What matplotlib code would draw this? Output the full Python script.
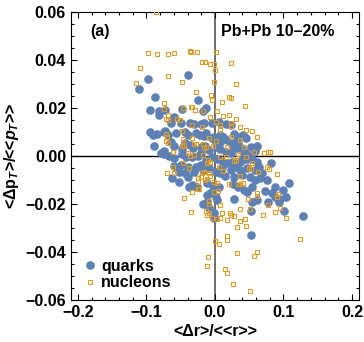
import numpy as np
import matplotlib
matplotlib.use('Agg')
import matplotlib.pyplot as plt
from matplotlib.ticker import MultipleLocator, FormatStrFormatter

### data ###
quarks_x = [-0.097, -0.111, -0.039, -0.087, -0.024, -0.095, -0.082, -0.073, -0.081, -0.048,
            -0.013, -0.017, -0.060, -0.050, -0.064, -0.036, -0.031, -0.021, -0.016, -0.005,
            0.006, 0.0165, 0.023, -0.095, -0.091, -0.085, -0.075, -0.073, -0.068, -0.057,
            -0.064, -0.060, -0.044, -0.040, -0.028, -0.022, -0.016, -0.013, -0.0015, -0.005,
            0.008, 0.012, 0.008, 0.028, 0.034, 0.041, 0.045, 0.052, 0.062, 0.058,
            0.030, 0.0335, 0.037, 0.042, -0.044, -0.037, -0.032, -0.020, -0.015, -0.075,
            -0.074, -0.078, -0.067, -0.060, -0.0485, -0.042, -0.033, -0.025, 0.001, 0.003,
            0.008, 0.0155, 0.023, 0.028, 0.035, 0.041, 0.046, 0.0495, -0.004, 0.003,
            0.011, 0.018, 0.025, 0.0305, 0.036, 0.040, 0.047, 0.054, 0.061, -0.060,
            -0.050, -0.040, -0.028, -0.021, -0.009, 0.011, 0.023, 0.028, 0.037, 0.047,
            0.058, 0.064, 0.069, 0.082, -0.052, -0.043, -0.031, -0.018, -0.062, -0.052,
            -0.040, 0.001, 0.007, 0.014, 0.028, 0.040, 0.051, 0.059, 0.0655, 0.076,
            -0.011, -0.0025, 0.006, -0.033, -0.038, -0.026, 0.026, 0.0335, 0.042, 0.047,
            0.054, 0.073, 0.0835, 0.087, 0.088, 0.100, 0.108, 0.103, 0.028, -0.011,
            -0.007, 0.001, 0.003, 0.054, 0.062, 0.078, 0.093, 0.0955, 0.1005, 0.129,
            -0.0175, -0.011, -0.008, -0.0015, -0.0015, 0.053, 0.0524, -0.021, -0.009, -0.0136,
            0.018, 0.023, -0.048, -0.089]
quarks_y = [0.0319, 0.0278, 0.0336, 0.0244, 0.0233, 0.0192, 0.0189, 0.0192, 0.0171, 0.0194,
            0.0201, 0.0189, 0.0161, 0.0139, 0.0139, 0.0139, 0.0133, 0.0133, 0.0138, 0.0139,
            0.0140, 0.0132, 0.0128, 0.0099, 0.0088, 0.0092, 0.0099, 0.0106, 0.0089, 0.0097,
            0.0060, 0.0043, 0.0101, 0.0089, 0.0094, 0.0086, 0.0083, 0.0097, 0.0081, 0.0074,
            0.0088, 0.0078, 0.0060, 0.0092, 0.0081, 0.0088, 0.0074, 0.0039, 0.0043, 0.0022,
            0.0060, 0.0050, 0.0039, 0.0018, 0.0053, 0.0046, 0.0033, 0.0036, 0.0042, 0.0022,
            0.0008, 0.0014, 0.0001, -0.0010, 0.0008, -0.0003, -0.0003, 0.0000, 0.0053, 0.0039,
            0.0028, 0.0018, 0.0011, 0.0032, 0.0028, 0.0025, 0.0008, 0.0001, -0.0003, -0.0014,
            -0.0019, -0.0031, -0.0024, -0.0033, -0.0024, -0.0017, -0.0014, -0.0011, -0.0024, -0.0040,
            -0.0038, -0.0047, -0.0044, -0.0038, -0.0051, -0.0051, -0.0058, -0.0044, -0.0058, -0.0051,
            -0.0058, -0.0044, -0.0069, -0.0031, -0.0065, -0.0072, -0.0065, -0.0058, -0.0093, -0.0107,
            -0.0086, -0.0065, -0.0072, -0.0083, -0.0086, -0.0079, -0.0086, -0.0100, -0.0093, -0.0100,
            -0.0111, -0.0124, -0.0128, -0.0121, -0.0131, -0.0128, -0.0117, -0.0128, -0.0142, -0.0149,
            -0.0128, -0.0147, -0.0156, -0.0131, -0.0169, -0.0142, -0.0113, -0.0169, -0.0180, -0.0163,
            -0.0153, -0.0169, -0.0183, -0.0190, -0.0183, -0.0190, -0.0190, -0.0179, -0.0228, -0.0251,
            -0.0200, -0.0190, -0.0218, -0.0239, -0.0260, -0.0229, -0.0330, 0.0014, 0.0025, -0.0017,
            0.0067, 0.0053, 0.0028, 0.0042]

nucleons_x = [-0.086, -0.097, -0.0845, -0.069, -0.059, -0.036, -0.0355, -0.026, 0.002, -0.0194,
              -0.015, -0.0073, -0.001, 0.000, 0.0238, -0.109, -0.1155, -0.069, -0.0476, -0.001,
              0.030, -0.027, -0.006, 0.021, 0.024, -0.005, 0.011, -0.075, 0.044, -0.047,
              -0.035, -0.034, -0.075, -0.029, -0.018, 0.003, -0.069, -0.007, 0.012, 0.020,
              -0.071, -0.069, -0.055, -0.051, 0.002, 0.007, 0.031, -0.034, -0.019, 0.023,
              0.024, 0.046, 0.054, -0.0485, 0.062, -0.071, -0.070, -0.046, -0.0335, 0.023,
              0.036, -0.071, -0.069, -0.048, -0.045, -0.030, -0.028, -0.0175, -0.0126, -0.0034,
              0.0015, 0.018, 0.042, 0.057, 0.071, 0.077, 0.081, -0.061, -0.040, -0.036,
              -0.030, -0.017, -0.0097, -0.011, 0.028, 0.031, 0.054, -0.046, -0.061, -0.038,
              -0.070, -0.059, -0.019, -0.0155, -0.0087, -0.0073, 0.006, 0.0117, 0.0495, 0.053,
              0.063, 0.076, 0.079, 0.036, 0.090, -0.025, -0.021, -0.015, -0.011, -0.024,
              -0.0015, 0.0024, 0.020, 0.0335, 0.037, 0.041, -0.023, -0.024, -0.0335, -0.001,
              0.0044, 0.061, 0.062, 0.092, 0.091, -0.045, -0.009, -0.008, 0.007, 0.0485,
              0.077, 0.0956, 0.036, 0.051, -0.035, -0.013, -0.0087, -0.012, 0.011, 0.022,
              0.024, 0.028, 0.070, 0.087, 0.104, -0.004, 0.0024, 0.008, 0.018, 0.036,
              0.044, 0.0325, 0.045, 0.124, 0.018, 0.017, 0.000, 0.0053, 0.062, 0.057,
              0.0325, -0.010, -0.0117, 0.0146, 0.018, 0.0267, 0.051, -0.0155, -0.0068, 0.008,
              0.016, 0.034, 0.046, -0.009, 0.008, 0.037]
nucleons_y = [0.0600, 0.0428, 0.0424, 0.0424, 0.0428, 0.0439, 0.0432, 0.0432, 0.0432, 0.0393,
              0.0393, 0.0382, 0.0382, 0.0358, 0.0389, 0.0368, 0.0303, 0.0335, 0.0310, 0.0310,
              0.0301, 0.0268, 0.0254, 0.0247, 0.0243, 0.0233, 0.0226, 0.0222, 0.0210, 0.0199,
              0.0203, 0.0206, 0.0196, 0.0192, 0.0189, 0.0188, 0.0171, 0.0164, 0.0168, 0.0169,
              0.0156, 0.0150, 0.0153, 0.0151, 0.0140, 0.0129, 0.0156, 0.0128, 0.0120, 0.0125,
              0.0139, 0.0110, 0.0106, 0.0106, 0.0080, 0.0092, 0.0081, 0.0069, 0.0076, 0.0080,
              0.0067, 0.0064, 0.0056, 0.0043, 0.0046, 0.0049, 0.0051, 0.0050, 0.0039, 0.0043,
              0.0063, 0.0039, 0.0039, 0.0018, 0.0014, 0.0015, 0.0018, 0.0017, 0.0011, 0.0000,
              0.0004, 0.0004, -0.0017, -0.0031, -0.0022, -0.0017, -0.0030, -0.0028, -0.0047, -0.0051,
              -0.0072, -0.0072, -0.0072, -0.0068, -0.0072, -0.0082, -0.0044, -0.0061, -0.0051, -0.0056,
              -0.0065, -0.0044, -0.0056, -0.0082, -0.0075, -0.0090, -0.0089, -0.0100, -0.0096, -0.0110,
              -0.0107, -0.0111, -0.0118, -0.0115, -0.0117, -0.0114, -0.0136, -0.0139, -0.0149, -0.0149,
              -0.0146, -0.0153, -0.0167, -0.0158, -0.0170, -0.0174, -0.0188, -0.0199, -0.0206, -0.0179,
              -0.0203, -0.0218, -0.0222, -0.0220, -0.0232, -0.0228, -0.0239, -0.0246, -0.0236, -0.0239,
              -0.0246, -0.0250, -0.0246, -0.0232, -0.0257, -0.0260, -0.0264, -0.0260, -0.0267, -0.0270,
              -0.0263, -0.0294, -0.0292, -0.0346, -0.0332, -0.0350, -0.0356, -0.0368, -0.0399, -0.0415,
              -0.0406, -0.0422, -0.0460, -0.0470, -0.0486, -0.0532, -0.0561, 0.0032, -0.0024, -0.0003,
              -0.0003, 0.0007, -0.0003, 0.0074, 0.0108, 0.0122]

BLUE = '#5E81B5'
ORANGE = '#E19C24'

plt.rcParams['font.family'] = ['Liberation Sans', 'DejaVu Sans']
plt.rcParams['font.weight'] = 'bold'
plt.rcParams['mathtext.fontset'] = 'custom'
plt.rcParams['mathtext.rm'] = 'Liberation Sans:bold'
plt.rcParams['mathtext.it'] = 'Liberation Sans:italic:bold'
plt.rcParams['mathtext.bf'] = 'Liberation Sans:bold'

fig = plt.figure(figsize=(3.64, 3.42), dpi=100)
ax = fig.add_axes([0.195, 0.123, 0.791, 0.842])

ax.axvline(0, color='#555555', lw=1.2, zorder=1)
ax.axhline(0, color='black', lw=1.0, zorder=1)

ax.plot(quarks_x, quarks_y, 'o', ms=6.2, color=BLUE, mec='none', label='quarks', zorder=2)
ax.plot(nucleons_x, nucleons_y, 's', ms=3.3, mfc='none', mec=ORANGE, mew=0.8,
        label='nucleons', zorder=3)

ax.set_xlim(-0.21, 0.21)
ax.set_ylim(-0.06, 0.06)
ax.xaxis.set_minor_locator(MultipleLocator(0.02))
ax.yaxis.set_minor_locator(MultipleLocator(0.005))
ax.tick_params(which='both', direction='in', top=True, right=True, labelsize=11.5, width=0.8)
ax.tick_params(which='major', length=4.5)
ax.tick_params(which='minor', length=2.5)
for s in ax.spines.values():
    s.set_linewidth(0.8)

# tick labels with proper minus signs
ax.set_xticks([-0.2, -0.1, 0.0, 0.1, 0.2])
ax.set_xticklabels(['\u22120.2', '\u22120.1', '0.0', '0.1', '0.2'], fontweight='bold')
ax.set_yticks([-0.06, -0.04, -0.02, 0.0, 0.02, 0.04, 0.06])
ax.set_yticklabels(['\u22120.06', '\u22120.04', '\u22120.02', '0.00', '0.02', '0.04', '0.06'],
                   fontweight='bold')

ax.set_xlabel('<\u0394r>/<<r>>', fontsize=11.5, fontweight='bold', labelpad=3)
ax.set_ylabel(r'<$\Delta$p$_{\mathit{T}}$>/<<$p_{T}$>>', fontsize=11.5, fontweight='bold', labelpad=3)

ax.text(-0.167, 0.0517, '(a)', fontsize=11.5, fontweight='bold', ha='center', va='center')
ax.text(0.092, 0.0517, 'Pb+Pb 10\u201320%', fontsize=11.5, fontweight='bold', ha='center', va='center')

ax.legend(loc='lower left', frameon=False, handletextpad=0.1,
          borderaxespad=0.2, labelspacing=0.1, handlelength=1.2,
          prop={'weight': 'bold', 'size': 11.5})

fig.savefig('out.png', dpi=100)
